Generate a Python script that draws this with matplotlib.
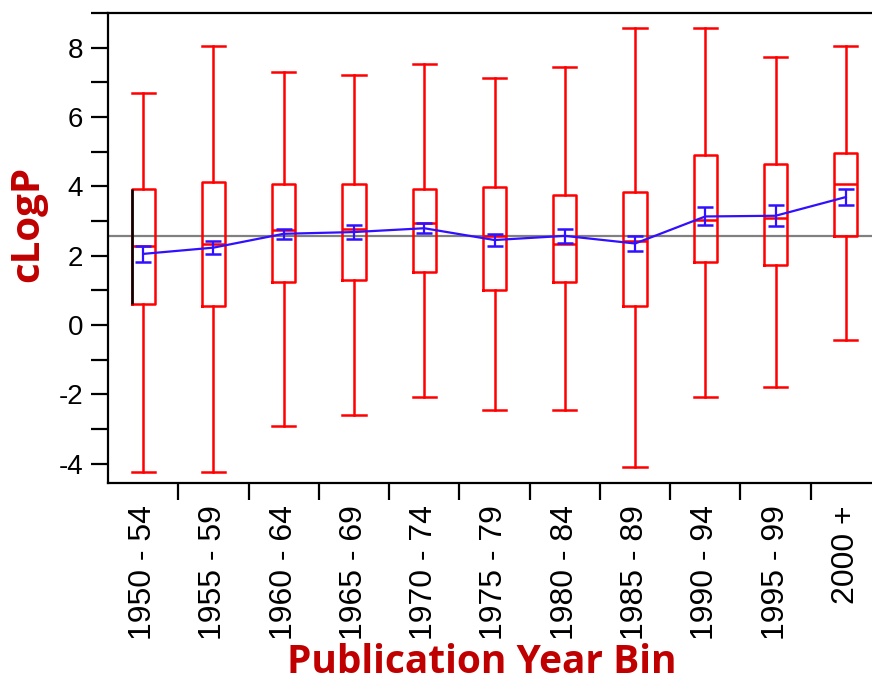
import matplotlib
matplotlib.use("Agg")
import matplotlib.pyplot as plt
import numpy as np

labels = ['1950 - 54', '1955 - 59', '1960 - 64', '1965 - 69', '1970 - 74',
          '1975 - 79', '1980 - 84', '1985 - 89', '1990 - 94', '1995 - 99', '2000 +']
whislo = [-4.25, -4.25, -2.91, -2.60, -2.08, -2.46, -2.46, -4.10, -2.08, -1.79, -0.43]
q1 = [0.61, 0.54, 1.23, 1.30, 1.54, 1.00, 1.23, 0.54, 1.82, 1.74, 2.57]
med = [2.27, 2.34, 2.74, 2.76, 2.93, 2.58, 2.34, 2.43, 3.03, 3.08, 4.08]
q3 = [3.92, 4.13, 4.07, 4.07, 3.92, 3.99, 3.76, 3.83, 4.89, 4.65, 4.96]
whishi = [6.69, 8.04, 7.30, 7.22, 7.52, 7.13, 7.43, 8.56, 8.56, 7.73, 8.04]
means = [2.05, 2.23, 2.63, 2.68, 2.79, 2.45, 2.57, 2.35, 3.13, 3.15, 3.69]
ci = [0.23, 0.19, 0.15, 0.19, 0.15, 0.18, 0.20, 0.22, 0.26, 0.30, 0.22]
overall_mean = 2.57

plt.rcParams['font.family'] = ['Liberation Sans', 'DejaVu Sans']
plt.rcParams['axes.unicode_minus'] = False

fig = plt.figure(figsize=(8.72, 6.83), dpi=100)
ax = fig.add_axes([108/872, 200/683, (881-108)/872, (483-13)/683])

pos = np.arange(len(labels))
bw = 0.33
red = '#ff0000'
blue = '#3010ff'

ax.axhline(overall_mean, color='#808080', lw=1.6, zorder=1)

stats = [dict(whislo=a, q1=b, med=c, q3=d, whishi=e) for a, b, c, d, e in
         zip(whislo, q1, med, q3, whishi)]
lp = dict(color=red, lw=1.8)
ax.bxp(stats, positions=pos, widths=bw, capwidths=bw, showfliers=False,
       boxprops=lp, whiskerprops=lp, capprops=lp, medianprops=lp,
       manage_ticks=False, zorder=2)

# black left edge on first box
ax.vlines(pos[0] - bw/2, q1[0], q3[0], color='black', lw=1.8, zorder=3)

ax.errorbar(pos, means, yerr=ci, color=blue, lw=1.6, capsize=5.5,
            capthick=1.8, zorder=4)

ax.set_xlim(-0.5, len(labels) - 0.5)
ax.set_ylim(-4.56, 9.0)

ax.set_yticks(np.arange(-4, 9, 2))
ax.set_yticks(np.arange(-3, 10, 2), minor=True)
ax.set_xticks(pos)
ax.set_xticklabels(labels, rotation=90, fontsize=23)
ax.set_xticks(pos[:-1] + 0.5, minor=True)
ax.tick_params(axis='x', which='major', length=0, pad=16)
ax.tick_params(axis='x', which='minor', length=12, width=1.6, direction='out')
ax.tick_params(axis='y', which='both', length=12, width=1.6, direction='out',
               labelsize=20, pad=6)

for s in ['left', 'bottom', 'top']:
    ax.spines[s].set_linewidth(1.6)
ax.spines['right'].set_visible(False)

ax.set_ylabel('cLogP', fontsize=29, fontweight='bold', color='#c00000',
              family=['Open Sans', 'DejaVu Sans'])
ax.yaxis.set_label_coords(-0.078, 0.551)
ax.set_xlabel('Publication Year Bin', fontsize=28, fontweight='bold', color='#c00000',
              family=['Open Sans', 'DejaVu Sans'])
ax.xaxis.set_label_coords(0.483, -0.34)

fig.savefig('out.png', dpi=100)
